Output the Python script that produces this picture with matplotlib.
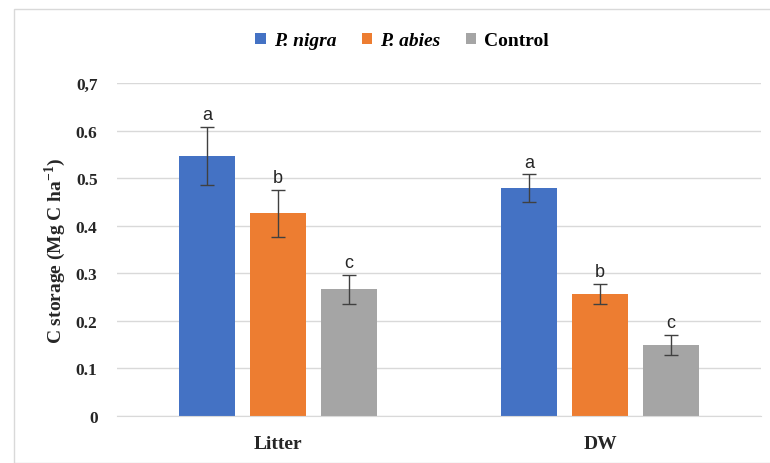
import matplotlib
matplotlib.use("Agg")
import matplotlib.pyplot as plt
import numpy as np
from matplotlib.patches import Rectangle

categories = ["Litter", "DW"]
series_names = ["P. nigra", "P. abies", "Control"]
p_nigra = [0.546, 0.479]
p_abies = [0.426, 0.257]
control = [0.266, 0.149]
p_nigra_err = [0.061, 0.029]
p_abies_err = [0.050, 0.021]
control_err = [0.031, 0.021]
p_nigra_letters = ["a", "a"]
p_abies_letters = ["b", "b"]
control_letters = ["c", "c"]
yticks = [0, 0.1, 0.2, 0.3, 0.4, 0.5, 0.6, 0.7]
ytick_labels = ["0", "0.1", "0.2", "0.3", "0.4", "0.5", "0.6", "0,7"]

colors = ["#4472C4", "#ED7D31", "#A5A5A5"]
serif = "Liberation Serif"
plt.rcParams["mathtext.fontset"] = "custom"
plt.rcParams["mathtext.rm"] = "Liberation Serif:bold"
plt.rcParams["mathtext.bf"] = "Liberation Serif:bold"

fig = plt.figure(figsize=(7.7, 4.64), dpi=100)
fig.patches.append(Rectangle((14/770, 0), 1, 1 - 10/464, transform=fig.transFigure,
                             fill=False, edgecolor="#D9D9D9", linewidth=1.0))
ax = fig.add_axes([117/770, 1 - 417/464, 644/770, (417 - 84)/464])

x = np.arange(len(categories))
width = 0.174
offset = 0.22
data = [p_nigra, p_abies, control]
errs = [p_nigra_err, p_abies_err, control_err]
letters = [p_nigra_letters, p_abies_letters, control_letters]
handles = []
for i, (vals, err, lets, c) in enumerate(zip(data, errs, letters, colors)):
    pos = x + (i - 1) * offset
    b = ax.bar(pos, vals, width, color=c, zorder=2,
               yerr=err, error_kw=dict(ecolor="#404040", elinewidth=1.0, capsize=5, capthick=1.0, zorder=3))
    handles.append(b)
    for p, v, e, l in zip(pos, vals, err, lets):
        ax.text(p, v + e + 0.008, l, ha="center", va="bottom", fontsize=13,
                family="Liberation Sans", color="#262626")

ax.set_xlim(-0.5, 1.5)
ax.set_ylim(0, 0.7)
ax.set_yticks(yticks)
ax.set_yticklabels(ytick_labels, fontfamily=serif, fontweight="bold", fontsize=12.5)
ax.set_xticks(x)
ax.set_xticklabels(categories, fontfamily=serif, fontweight="bold", fontsize=14)
ax.tick_params(axis="both", length=0, colors="#262626")
ax.tick_params(axis="x", pad=14)
ax.tick_params(axis="y", pad=14)
ax.yaxis.grid(True, color="#D9D9D9", linewidth=1.0, zorder=0)
ax.set_axisbelow(True)
for s in ["top", "right", "left"]:
    ax.spines[s].set_visible(False)
ax.spines["bottom"].set_color("#D9D9D9")
ax.set_ylabel("C storage (Mg C ha$^{-1}$)", fontfamily=serif, fontweight="bold",
              fontsize=14, color="#262626")
ax.yaxis.set_label_coords(-0.076, 0.5)

leg = fig.legend(handles, series_names, loc="center", bbox_to_anchor=(402/770, 1 - 42/464),
                 ncol=3, frameon=False, handlelength=0.55, handleheight=0.55, handletextpad=0.4,
                 columnspacing=1.3, prop=dict(family=serif, weight="bold", size=14))
for t in leg.get_texts()[:2]:
    t.set_fontstyle("italic")

fig.savefig("out.png", dpi=100)
